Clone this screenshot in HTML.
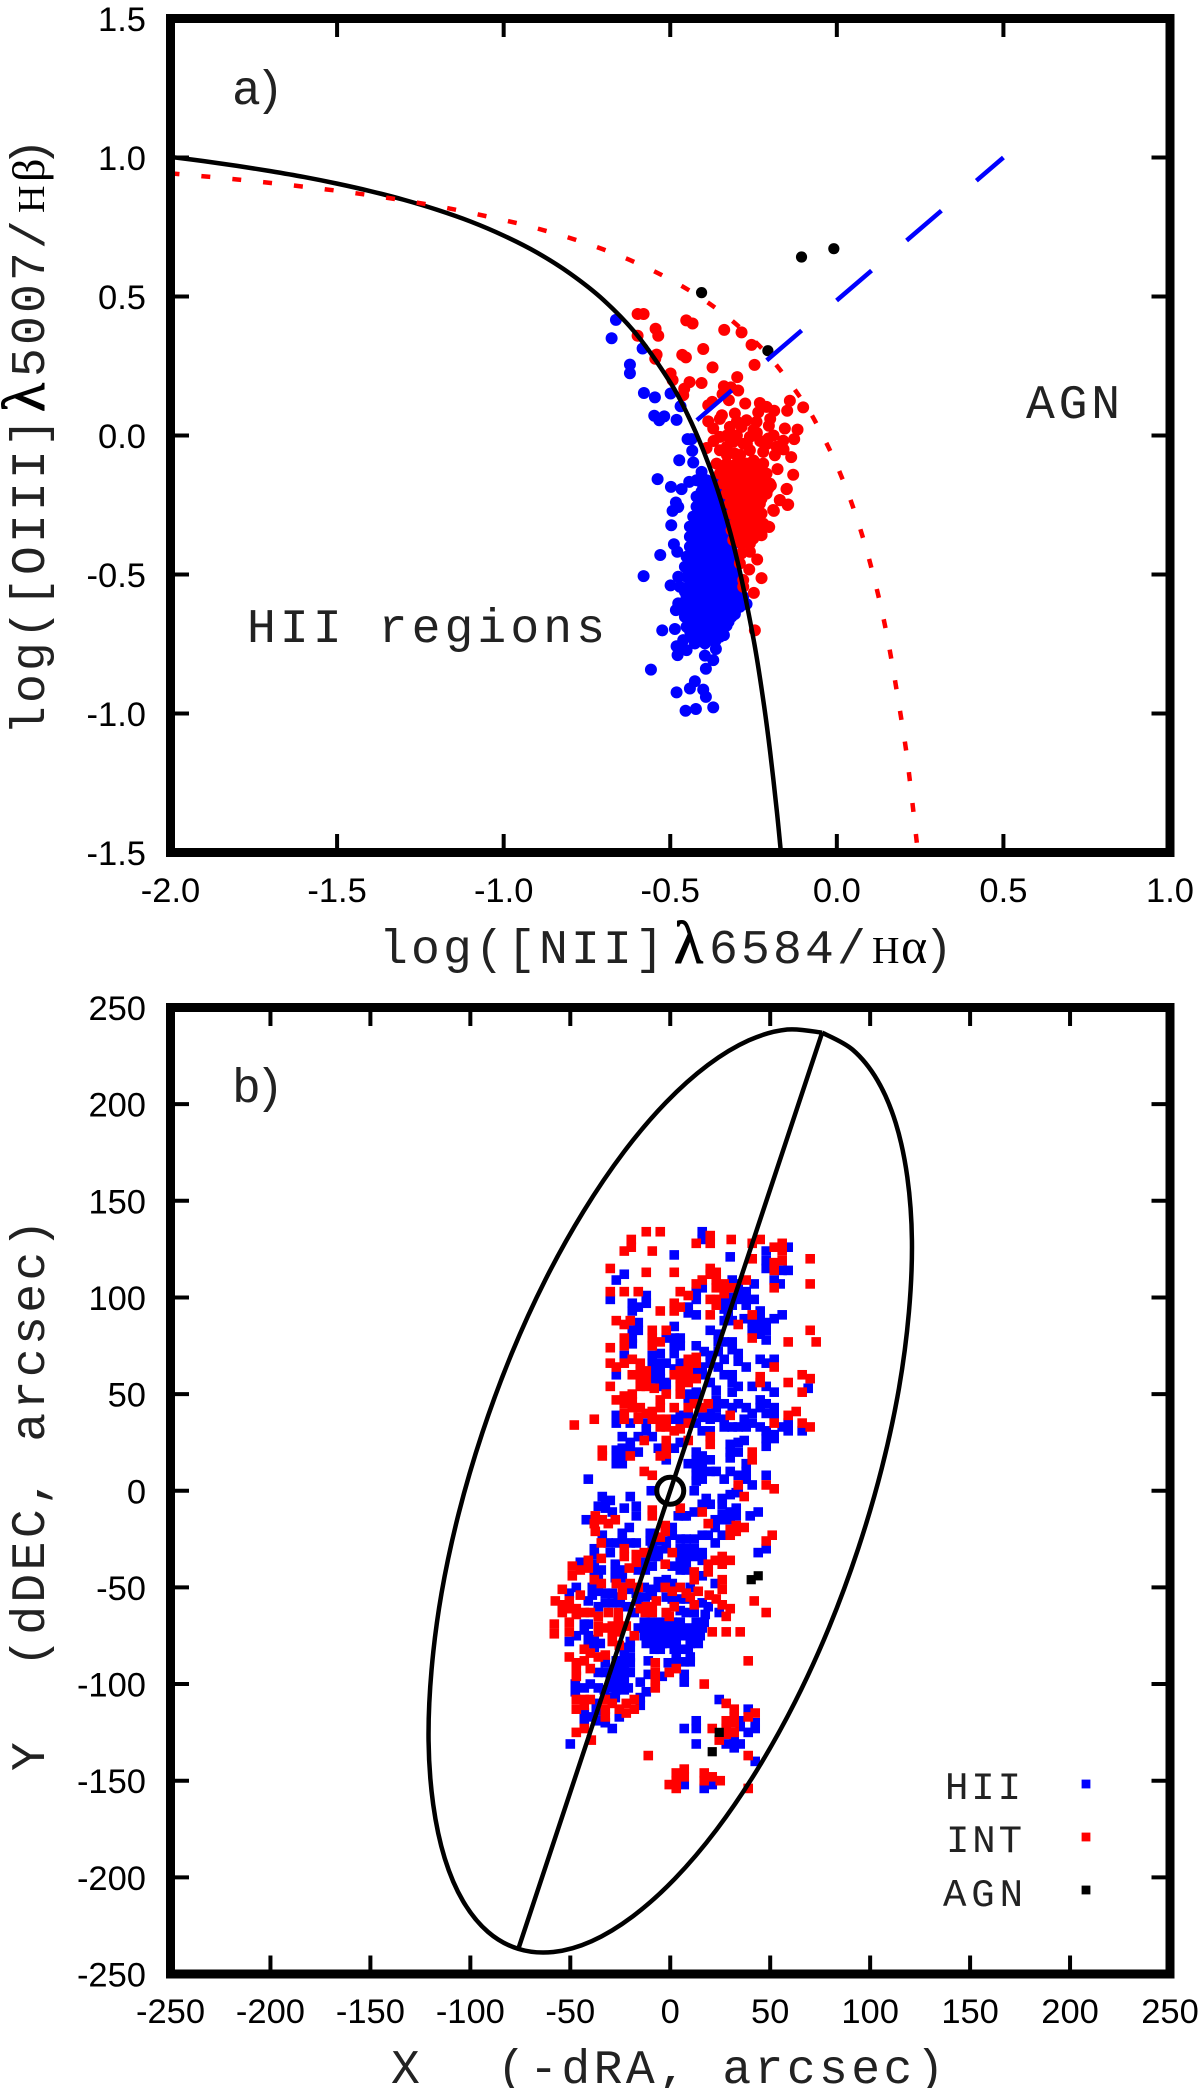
<!DOCTYPE html>
<html lang="en">
<head>
<meta charset="utf-8">
<title>BPT diagram and spatial distribution</title>
<style>
html,body{margin:0;padding:0;background:#fff;}
svg{display:block;}
.tick-label{font-family:"Liberation Sans",sans-serif;font-size:34.5px;fill:#000;}
.mono{font-family:"Liberation Mono",monospace;font-size:48px;fill:#222;}
.title{letter-spacing:3.2px;}
.legend{font-family:"Liberation Mono",monospace;font-size:39px;fill:#222;}
.greek{font-family:"Liberation Serif",serif;letter-spacing:0;fill:#000;}
.lambda{stroke:#000;stroke-width:1;}
</style>
</head>
<body>
<svg id="chart" xmlns="http://www.w3.org/2000/svg" width="1200" height="2088" viewBox="0 0 1200 2088">
  <rect x="0" y="0" width="1200" height="2088" fill="#fff"/>
  <g id="panelA"></g>
  <g id="panelB"></g>

  <text class="mono" x="232" y="104" textLength="52" lengthAdjust="spacing">a)</text>
  <text class="mono" x="1026" y="418" textLength="94" lengthAdjust="spacing">AGN</text>
  <text class="mono" x="247" y="642" textLength="358" lengthAdjust="spacing">HII regions</text>
  <text class="mono title" y="963"><tspan x="379">log([NII]</tspan><tspan x="674" class="greek lambda" font-size="60">λ</tspan><tspan x="709">6584/</tspan><tspan x="872" class="greek" font-size="38">H</tspan><tspan x="901" class="greek" font-size="50">α</tspan><tspan x="924">)</tspan></text>
  <text class="mono title" y="735" transform="rotate(-90 44 735)"><tspan x="44">log([OIII]</tspan><tspan x="367" class="greek lambda" font-size="60">λ</tspan><tspan x="402">5007/</tspan><tspan x="566" class="greek" font-size="38">H</tspan><tspan x="597" class="greek" font-size="46">β</tspan><tspan x="612">)</tspan></text>

  <text class="mono" x="232" y="1102" textLength="52" lengthAdjust="spacing">b)</text>
  <text class="mono" y="2083" style="letter-spacing:3.4px"><tspan x="391">X</tspan><tspan x="497">(-dRA, arcsec)</tspan></text>
  <text class="mono" y="1771" transform="rotate(-90 44 1771)" style="letter-spacing:3.4px"><tspan x="44">Y</tspan><tspan x="148">(dDEC, arcsec)</tspan></text>

  <g>
    <text class="legend" x="945" y="1799" textLength="76" lengthAdjust="spacing">HII</text>
    <rect x="1081.6" y="1779.6" width="8.8" height="8.8" fill="#0000ff"/>
    <text class="legend" x="946" y="1852" textLength="76" lengthAdjust="spacing">INT</text>
    <rect x="1081.6" y="1832.6" width="8.8" height="8.8" fill="#ff0000"/>
    <text class="legend" x="943" y="1906" textLength="80" lengthAdjust="spacing">AGN</text>
    <rect x="1081.6" y="1885.6" width="8.8" height="8.8" fill="#000"/>
  </g>
</svg>
<script>
// ---------- Panel a data: [log NII/Ha, log OIII/Hb] ----------
const bptXTicks = [-2.0,-1.5,-1.0,-0.5,0.0,0.5,1.0];
const bptYTicks = [-1.5,-1.0,-0.5,0.0,0.5,1.0,1.5];
const bptXLabels = ['-2.0','-1.5','-1.0','-0.5','0.0','0.5','1.0'];
const bptYLabels = ['-1.5','-1.0','-0.5','0.0','0.5','1.0','1.5'];

const bptHii = [
[-.663,.416],[-.676,.350],[-.583,.313],[-.621,.255],[-.621,.224],[-.579,.153],[-.546,.137],[-.499,.151],[-.469,.105],[-.548,.071],[-.518,.069],[-.533,.055],[-.481,.056],[-.448,-.013],[-.436,-.013],[-.434,-.055],[-.473,-.089],[-.431,-.097],[-.538,-.157],[-.498,-.185],[-.466,-.193],[-.443,-.167],[-.483,-.241],[-.476,-.257],[-.493,-.271],[-.497,-.323],[-.489,-.391],
[-.530,-.430],[-.479,-.418],[-.580,-.506],[-.476,-.508],[-.499,-.539],[-.476,-.604],[-.483,-.628],[-.524,-.701],[-.486,-.696],[-.481,-.758],[-.478,-.790],[-.558,-.842],[-.393,-.839],[-.371,-.808],[-.396,-.792],[-.363,-.768],[-.426,-.884],[-.441,-.910],[-.481,-.924],[-.401,-.914],[-.393,-.940],[-.371,-.978],[-.423,-.984],[-.454,-.990],[-.339,-.718],[-.331,-.684],[-.306,-.642],[-.271,-.606],[-.451,-.772],[-.461,-.736],[-.426,-.748],[-.396,-.748],
[-.406,-.131],[-.421,-.161],[-.391,-.161],[-.361,-.161],
[-.401,-.184],[-.371,-.184],[-.421,-.22],[-.391,-.22],[-.361,-.22],[-.35,-.2],[-.421,-.256],[-.391,-.256],[-.361,-.256],[-.34,-.256],
[-.431,-.292],[-.401,-.292],[-.371,-.292],[-.341,-.292],[-.441,-.328],[-.411,-.328],[-.381,-.328],[-.351,-.328],[-.326,-.328],
[-.441,-.364],[-.411,-.364],[-.381,-.364],[-.351,-.364],[-.321,-.364],[-.441,-.40],[-.411,-.40],[-.381,-.40],[-.351,-.40],[-.316,-.40],
[-.451,-.436],[-.421,-.436],[-.391,-.436],[-.361,-.436],[-.331,-.436],[-.306,-.436],[-.456,-.472],[-.426,-.472],[-.396,-.472],[-.366,-.472],[-.336,-.472],[-.306,-.472],
[-.451,-.508],[-.421,-.508],[-.391,-.508],[-.361,-.508],[-.331,-.508],[-.299,-.508],[-.471,-.544],[-.441,-.544],[-.411,-.544],[-.381,-.544],[-.351,-.544],[-.321,-.544],[-.291,-.544],
[-.451,-.58],[-.421,-.58],[-.391,-.58],[-.361,-.58],[-.331,-.58],[-.301,-.58],[-.281,-.58],[-.471,-.616],[-.441,-.616],[-.411,-.616],[-.381,-.616],[-.351,-.616],[-.321,-.616],[-.291,-.616],
[-.456,-.652],[-.426,-.652],[-.396,-.652],[-.366,-.652],[-.336,-.652],[-.316,-.652],[-.451,-.688],[-.421,-.688],[-.391,-.688],[-.361,-.688],[-.341,-.688],[-.436,-.724],[-.406,-.724],[-.376,-.724],[-.351,-.724],
[-.406,-.202],[-.376,-.202],[-.406,-.238],[-.376,-.238],[-.35,-.238],[-.406,-.274],[-.376,-.274],[-.35,-.274],
[-.416,-.31],[-.386,-.31],[-.356,-.31],[-.33,-.31],[-.426,-.346],[-.396,-.346],[-.366,-.346],[-.336,-.346],[-.426,-.382],[-.396,-.382],[-.366,-.382],[-.336,-.382],
[-.436,-.418],[-.406,-.418],[-.376,-.418],[-.346,-.418],[-.32,-.418],[-.44,-.454],[-.41,-.454],[-.38,-.454],[-.35,-.454],[-.32,-.454],[-.44,-.49],[-.41,-.49],[-.38,-.49],[-.35,-.49],[-.32,-.49],
[-.44,-.526],[-.41,-.526],[-.38,-.526],[-.35,-.526],[-.316,-.526],[-.456,-.562],[-.426,-.562],[-.396,-.562],[-.366,-.562],[-.336,-.562],[-.306,-.562],
[-.456,-.598],[-.426,-.598],[-.396,-.598],[-.366,-.598],[-.336,-.598],[-.306,-.598],[-.456,-.634],[-.426,-.634],[-.396,-.634],[-.366,-.634],[-.336,-.634],[-.306,-.634],
[-.44,-.67],[-.41,-.67],[-.38,-.67],[-.35,-.67],[-.325,-.67],[-.44,-.706],[-.41,-.706],[-.38,-.706],[-.355,-.706],[-.42,-.74],[-.39,-.74],[-.365,-.74]
];

const bptInt = [
[-.598,.437],[-.580,.437],[-.452,.414],[-.433,.403],[-.544,.384],[-.536,.359],[-.598,.359],[-.338,.380],[-.286,.371],[-.256,.326],[-.401,.311],[-.464,.290],[-.453,.281],[-.541,.291],[-.545,.276],[-.247,.254],[-.373,.245],[-.499,.223],[-.493,.199],[-.299,.210],[-.442,.192],[-.406,.189],[-.458,.168],[-.461,.145],[-.339,.177],[-.318,.173],[-.296,.162],[-.343,.149],[-.374,.121],[-.386,.109],[-.324,.127],[-.275,.115],[-.141,.125],[-.101,.101],[-.231,.117],[-.211,.103],[-.188,.089],[-.149,.089],[-.236,.083],[-.345,.073],[-.306,.079],[-.386,.051],[-.351,.060],[-.241,.049],[-.271,.055],[-.321,.031],[-.204,.035],[-.156,.025],[-.118,.021],[-.371,.025],[-.286,.031],[-.206,-.011],[-.161,-.019],[-.128,-.013],[-.351,-.005],[-.311,-.023],[-.261,-.005],[-.391,-.045],[-.181,-.041],[-.221,-.059],[-.186,-.071],[-.137,-.078],[-.351,-.053],[-.306,-.065],[-.261,-.053],[-.178,-.121],[-.131,-.141],[-.151,-.193],[-.171,-.233],[-.148,-.250],[-.189,-.271],[-.203,-.329],[-.226,-.359],
[-.33,-.07],[-.28,-.03],[-.23,-.02],[-.29,-.07],[-.25,-.09],[-.33,.0],[-.24,.01],[-.19,.0],[-.30,.05],[-.25,.02],[-.33,-.04],[-.27,-.03],[-.21,-.03],[-.16,-.05],[-.3,.0],[-.2,.06],[-.37,-.02],
[-.361,-.101],[-.331,-.101],[-.301,-.101],[-.271,-.101],[-.241,-.101],[-.221,-.101],[-.351,-.137],[-.321,-.137],[-.291,-.137],[-.261,-.137],[-.231,-.137],[-.211,-.137],
[-.341,-.173],[-.311,-.173],[-.281,-.173],[-.251,-.173],[-.221,-.173],[-.201,-.173],[-.331,-.209],[-.301,-.209],[-.271,-.209],[-.241,-.209],[-.211,-.209],
[-.321,-.245],[-.291,-.245],[-.261,-.245],[-.231,-.245],[-.316,-.281],[-.286,-.281],[-.256,-.281],[-.226,-.281],[-.306,-.317],[-.276,-.317],[-.246,-.317],[-.221,-.317],[-.296,-.353],[-.266,-.353],[-.241,-.353],[-.286,-.389],[-.261,-.389],
[-.346,-.119],[-.316,-.119],[-.286,-.119],[-.256,-.119],[-.226,-.119],[-.336,-.155],[-.306,-.155],[-.276,-.155],[-.246,-.155],[-.216,-.155],[-.326,-.191],[-.296,-.191],[-.266,-.191],[-.236,-.191],[-.206,-.191],
[-.316,-.227],[-.286,-.227],[-.256,-.227],[-.226,-.227],[-.306,-.263],[-.276,-.263],[-.246,-.263],[-.301,-.299],[-.271,-.299],[-.241,-.299],[-.291,-.335],[-.261,-.335],[-.231,-.335],[-.281,-.371],[-.251,-.371],
[-.198,-.180],[-.150,-.192],[-.171,-.232],[-.146,-.248],[-.191,-.268],[-.206,-.328],[-.226,-.358],[-.256,-.370],[-.261,-.418],[-.239,-.446],[-.263,-.482],[-.226,-.513],[-.249,-.566],[-.281,-.520],[-.281,-.544],[-.246,-.701],[-.291,-.460],[-.286,-.424],[-.311,-.376],[-.281,-.376],[-.316,-.340]
];

const bptAgn = [[-.106,.642],[-.009,.672],[-.406,.514],[-.207,.305]];

const kauffmannX = [-2,-1.9,-1.8,-1.7,-1.6,-1.5,-1.4,-1.3,-1.2,-1.1,-1,-.9,-.8,-.7,-.6,-.5,-.45,-.4,-.35,-.3,-.25,-.22,-.2,-.18,-.168];
const kauffmannY = [1.002,.987,.970,.951,.930,.906,.879,.848,.812,.770,.719,.658,.582,.487,.362,.191,.08,-.056,-.225,-.443,-.733,-.959,-1.14,-1.352,-1.498];
const kewleyX = [-2,-1.8,-1.6,-1.4,-1.2,-1,-.9,-.8,-.7,-.6,-.5,-.4,-.3,-.2,-.1,-.05,0,.05,.1,.15,.2,.22,.243];
const kewleyY = [.943,.921,.895,.864,.825,.775,.745,.710,.669,.620,.561,.489,.398,.280,.120,.017,-.108,-.262,-.459,-.716,-1.069,-1.25,-1.497];
const agnDividerX = [-.42,.5];
const agnDividerY = [.055,1.0];

// ---------- Panel b data: [X, Y] arcsec ----------
const mapTicks = [-250,-200,-150,-100,-50,0,50,100,150,200,250];
const mapTickLabels = ['-250','-200','-150','-100','-50','0','50','100','150','200','250'];

const mapHii = [
[16,134],[16,130],[2,122],[30,121],[48,124],[48,119],[48,115],[59,126],[56,114],[59,114],[-23,112],[-27,109],[31,109],[34,107],[42,107],[52,109],[55,107],[16,105],[13,103],[13,99],[-12,101],[-12,97],[-16,95],[-19,97],[-19,93],[-30,99],[31,100],[34,103],[34,99],[38,103],[38,99],[42,99],[38,96],[27,98],[27,94],[9,95],[9,92],[13,91],[31,96],[29,91],[27,88],[31,88],[45,93],[45,89],[56,91],[52,89],[48,87],[37,89],[41,87],[45,85],[41,83],[45,81],[48,83],[48,78],[-16,87],[-16,83],[-19,83],[-19,79],[-19,76],[2,85],[2,79],[5,79],[-2,79],[5,75],[2,75],[2,71],[20,83],[24,81],[27,77],[31,77],[24,77],[31,73],[34,71],[34,67],[38,64],[45,68],[48,66],[52,68],[13,75],[17,72],[20,70],[24,72],[27,68],[20,66],[16,64],[24,64],[27,60],[31,60],[31,56],[34,54],[31,51],[41,54],[48,54],[52,51],[23,52],[20,56],[-5,71],[-9,70],[-9,66],[-5,66],[-2,66],[-9,62],[-5,62],[-9,58],[-5,58],[-2,56],[-2,52],[-5,54],[-23,70],[-27,60],[5,66],[69,53],[2,63],[13,62],[16,60],[13,51],[9,50],[9,47],[13,47],[23,47],[27,45],[31,43],[34,45],[38,43],[41,40],[45,47],[48,45],[52,43],[45,43],[48,40],[52,39],[23,43],[20,40],[16,38],[20,37],[23,38],[27,37],[27,33],[31,33],[34,33],[38,33],[41,35],[45,33],[48,31],[52,29],[56,33],[59,31],[59,35],[66,31],[37,37],[13,35],[16,31],[20,31],[5,39],[9,39],[2,37],[5,35],[-27,39],[-27,35],[-20,35],[-12,35],[-12,31],[-9,28],[-24,28],[-20,25],[-16,28],[-20,22],[-24,22],[-27,21],[-27,18],[-27,14],[-24,18],[-16,20],[-24,14],[2,22],[5,25],[-6,22],[-2,16],[13,20],[16,18],[20,16],[13,16],[16,14],[13,12],[9,14],[13,8],[16,10],[20,10],[13,5],[16,6],[12,0],[23,10],[27,6],[30,10],[34,8],[38,10],[38,6],[34,1],[41,3],[30,24],[34,25],[37,26],[30,20],[34,20],[30,17],[38,14],[48,8],[48,27],[48,23],[52,27],[-41,6],[-34,-3],[-30,-5],[-20,-3],[-9.5,0],[30,-2],[26,-4],[33,-1],[18,-4],
[-32.5,-6],[-36,-8],[-32.5,-9],[-29,-11],[-23,-9],[-17,-8],[-17,-13],[-42,-15],[8,-13],[7,-13],[12,-11],[4,-13],[16,-7],[20,-7],[26,-7],[33,-9],[33,-13],[30,-11],[26,-12],[22.5,-15],[26,-15],[30,-15],[40,-13],[44,-11],[22.5,-19],[26,-23],[22.5,-27],[19,-23],[16,-23],[12,-25],[8,-25],[5,-25],[1,-19],[1,-23],[-2,-26],[-6,-26],[-10,-22],[-10,-26],[-20.5,-19],[-24,-22],[-24,-26],[-34,-23],[-38,-30],[-38,-33],[-31,-27],[-27,-27],[-20,-27],[-17,-27],[-30,-32],[-9,-30],[-6,-31],[-2,-30],[5,-30],[8,-30],[12,-30],[16,-32],[5,-34],[8,-34],[12,-34],[16,-36],[5,-37],[8,-38],[44,-32],[48,-30],[-6,-34],[-9,-34],[-12.5,-37],[-9,-39],[-12.5,-41],[-16,-41],[1,-39],[5,-41],[8,-41],[16,-44],[22.5,-48],[-45,-37],[-38,-38],[-34.5,-41],[-38,-42],[-27.5,-38],[-24,-41],[-27.5,-42],[-27.5,-45],[-24,-45],[-36,-44],[-47,-50],[-50.5,-53],[-39,-50],[-36,-52],[-39,-54],[-32.5,-53],[-29,-53],[-26,-55],[-20,-51],[-17,-53],[-13,-50],[-10,-51],[-6,-47],[-2,-46],[1,-48],[-9,-54],[-6,-50],[10,-50],
[-41,-57],[-36,-60],[-32.5,-58],[-29,-58],[-25,-58],[-22,-60],[-18,-63],[-16,-57],[-12.5,-55],[-2,-55],[1,-56],[5,-56],[8,-56],[12,-63],[16,-58],[19,-60],[17.5,-64],[24.5,-63],[5,-62],[8,-63],
[-13,-68],[-10,-68],[-6,-68],[-2,-68],[1,-68],[5,-68],[13,-68],[17,-68],[-16,-71],[-12.5,-71],[-9,-71],[-5,-71],[-2,-71],[2,-71],[5,-71],[9,-71],[13,-71],[16,-71],[-13,-75],[-10,-75],[-6,-75],[-2,-75],[1,-75],[5,-75],[9,-75],[12.5,-75],[15,-75],[-12,-79],[-8,-79],[-4,-79],[-1,-79],[3,-79],[10,-79],[14,-79],[-8,-82],[-5,-82],[2,-82],[5,-82],[9,-82],[3,-86],[10,-86],[3,-88.5],[7,-88.5],[10,-88.5],
[-43,-69],[-43,-72],[-41,-69],[-47,-75],[-50.5,-78],[-41,-75],[-38,-77],[-35,-79],[-41,-79],[-38,-81],[-20,-78],[-23,-81],[-20,-81],[-20,-86],[-23,-85],[-27,-88],[-23,-89],[-20,-89],[-32.5,-89],[-36,-94],[-32.5,-94],[-27,-92],[-23,-93],[-20,-94],[-27,-96],[-23,-96],[-30,-98],[-27,-100],[-23,-100],[-21,-102],[-27,-103],[-30,-102],[-23,-103],[-47.5,-100],[-47.5,-104],[-43,-102],[-40,-100],[-36,-102],[-27.5,-107],[-30,-107],[-33,-103],[-11,-88],[-11,-95],[-15,-99],[-4,-96],[-1,-89],[7,-95],[7,-99],[-12,-104],[-15,-107],[-15,-111],[-43,-115],[-43,-119],[-40,-117],[-37,-110],[-37,-114],[-37,-119],[-32.5,-120],[-29,-123],[-25.5,-117],[-50,-131],
[24.5,-108],[39,-113],[35,-119],[35,-122],[39,-125],[42.5,-120],[42.5,-123],[7,-123],[13,-119],[13,-123],[13,-131],[28,-131],[32,-133],[35,-131],[32,-129],[42.5,-140],[7,-152],[17,-154],[21,-152]
];

const mapInt = [
[-12,134],[-5,134],[20,132],[20,128],[-19.5,130],[-19.5,126],[-23,124],[-9,124],[13,128],[30.5,130],[41,128],[45,130],[52,126],[56,128],[56,124],[56,119],[52,118],[52,114],[41,120],[70,120],[-30,115],[-12,113],[2,113],[20,115],[23,113],[20,112],[16,109],[13,107],[23,109],[27,107],[23,105],[31,105],[27,103],[38,109],[52,105],[70,107],[-30,103],[-23,103],[-16,103],[5,103],[9,101],[20,99],[23,99],[23,96],[27,102],[2,97],[2,93],[5,95],[-5,93],[20,91],[41,91],[-27,88],[-23,86],[-20,88],[34,86],[70,83],[-9,83],[-2,83],[-9,79],[-23,79],[-23,75],[-9,75],[-5,77],[-30,74],[59,77],[73,77],[41,79],[-19,68],[-15,66],[-30,66],[-27,64],[-23,66],[13,69],[9,68],[13,66],[9,64],[5,62],[2,60],[-15,62],[-12,62],[-19,60],[-15,58],[-12,58],[9,60],[5,58],[13,58],[9,56],[5,54],[-15,54],[-12,54],[-8,53],[-30,54],[45,59],[45,56],[52,64],[66,60],[70,58],[59,56],[66,51],[5,50],[-2,50],[-19,50],[-23,49],[-19,46],[-27,47],[-23,45],[-19,43],[-15,43],[-5,47],[-5,43],[-9,41],[-12,40],[-16,38],[-23,40],[-23,37],[-16,37],[-9,37],[-5,37],[-2,37],[-5,33],[-2,33],[2,31],[5,32],[9,35],[12,45],[16,43],[19,45],[9,43],[2,43],[30,39],[52,35],[59,39],[63,41],[66,35],[70,33],[-48,34],[-38,37],[-13,26],[-2,26],[-2,22],[-5,18],[-2,19],[9,26],[20,28],[20,24],[-34,21],[-34,18],[-20,18],[41,20],[41,16],[-13,10],[-9,8],[34,3],[48,3],[52,1],[37,-3],
[-9,-10],[-9,-13],[-37.5,-13],[-38,-17],[-37.5,-21],[-34,-15],[-31,-17],[-27.5,-15],[16,-11],[5,-9],[-2.5,-18],[-2.5,-21],[-5,-24],[19,-17],[30,-20],[30,-23],[33,-18],[33,-21],[37,-19],[51,-23],[48,-26],[-34.5,-27],[-23,-30],[-23,-34],[-13,-32],[-17,-33],[-17,-37],[1,-32],[-34.5,-35],[-41,-36],[-41,-40],[-45,-41],[-49,-39],[-49,-44],[-20.5,-40],[-2.5,-38],[12,-42],[12,-46],[19,-38],[19,-42],[22.5,-36],[26,-34],[26,-38],[30,-36],[26,-46],[26,-51],[-38,-46],[-34.5,-48],[-27,-48],[-24,-50],[-20,-48],[-16,-50],[-24,-54],[-54,-51],[-45,-54],[-57.5,-57],[-50.5,-57],[-54,-59],[-54,-63],[-50.5,-61],[-47,-61],[-47,-64],[-43,-63],[-40,-63],[-36,-65],[-31,-63],[-26,-63],[-26,-66],[-58,-69],[-58,-74],[-50.5,-68],[-50.5,-73],[-36,-70],[-36,-73],[-32.5,-71],[-29,-70],[-26,-70],[-29,-74],[-26,-73],[-22,-70],[-29,-78],[-25.5,-80],[-18,-75],
[-2.5,-50],[1,-52],[5,-50],[8,-53],[10,-55],[14,-52],[12,-59],[19.5,-54],[23,-56],[26,-59],[30,-61],[28,-65],[2,-60],[-2,-63],[-0.5,-65],[-7,-57],[-9,-60],[-12,-60],[-15,-61],[-9,-63],[-12.5,-63],[21,-73],[28,-73],[35,-73],[42,-57],[48,-63],[39,-88],[17,-100],
[-50.5,-86],[-43,-82],[-40,-84],[-36,-86],[-32.5,-85],[-47,-89],[-43,-88],[-47,-93],[-47,-96],[-40,-92],[-7.5,-89],[-7.5,-94],[-7.5,-98],[-7.5,-102],[3,-92],[-0.5,-94],[-47,-108],[-47,-113],[-43,-108],[-40,-108],[-43,-111],[-32.5,-108],[-29,-110],[-32.5,-113],[-32.5,-117],[-22,-110],[-18,-108],[-18,-113],[-25.5,-113],[-22,-115],[-43,-123],[-47,-125],[-39.5,-129],
[28,-110],[32,-113],[32,-117],[28,-119],[32,-120],[28,-123],[32,-125],[28,-126],[24.5,-129],[21,-123],[39,-117],[42.5,-115],[39,-137],[-11,-137],[7,-144],[3,-146],[7,-148],[3,-150],[-0.5,-152],[3,-154],[17,-146],[17,-150],[21,-148],[25,-150],[39,-154]
];

const mapAgn = [[44,-44],[40.5,-46],[24.5,-125],[21,-135]];

const galaxyOutlineX = [76,91.2,103.6,112.8,118.6,120.9,119.4,114.4,105.8,94,79.4,62.4,43.4,23.1,2.2,-18.8,-39.3,-58.5,-76,-91.2,-103.6,-112.8,-118.6,-120.9,-119.4,-114.4,-105.8,-94,-79.4,-62.4,-43.4,-23.1,-2.2,18.8,39.3,58.5,76];
const galaxyOutlineY = [237,228.2,212.4,190.2,162.2,129.4,92.5,52.9,11.6,-30,-70.8,-109.3,-144.5,-175.4,-200.8,-220.2,-233,-238.6,-237,-228.2,-212.4,-190.2,-162.2,-129.4,-92.5,-52.9,-11.6,30,70.8,109.3,144.5,175.4,200.8,220.2,233,238.6,237];
const majorAxisX = [-76,76];
const majorAxisY = [-237,237];
const galaxyCentre = [0,0];

// ---------- Axis functions ----------
const SVGNS = 'http://www.w3.org/2000/svg';
const frameLeft = 170.5, frameRight = 1170;
const aTop = 18.5, aBottom = 852.5, bTop = 1007.5, bBottom = 1974;
const ax = v => frameLeft + (v + 2) / 3 * (frameRight - frameLeft);
const ay = v => aBottom - (v + 1.5) / 3 * (aBottom - aTop);
const bx = v => frameLeft + (v + 250) / 500 * (frameRight - frameLeft);
const by = v => bBottom - (v + 250) / 500 * (bBottom - bTop);

function make(parent, tag, attrs) {
  const el = document.createElementNS(SVGNS, tag);
  for (const k in attrs) el.setAttribute(k, attrs[k]);
  parent.appendChild(el);
  return el;
}

function line(parent, name, x1, y1, x2, y2, w) {
  const el = make(parent, 'line', {x1, y1, x2, y2, stroke: '#000', 'stroke-width': w});
  
  
  return el;
}

function axes(parent, prefix, xf, yf, top, bottom, xTicks, xLabels, yTicks, yLabels, xBase) {
  const tickLen = 18.5;
  xTicks.forEach((t, i) => {
    const px = xf(t);
    if (i > 0 && i < xTicks.length - 1) {
      line(parent, prefix + '-x-tick-bottom', px, bottom, px, bottom - tickLen, 4);
      line(parent, prefix + '-x-tick-top', px, top, px, top + tickLen, 4);
    }
    const label = make(parent, 'text', {x: px, y: xBase, 'text-anchor': 'middle', class: 'tick-label'});
    
    
    label.textContent = xLabels[i];
  });
  yTicks.forEach((t, i) => {
    const py = yf(t);
    if (i > 0 && i < yTicks.length - 1) {
      line(parent, prefix + '-y-tick-left', frameLeft, py, frameLeft + tickLen, py, 4);
      line(parent, prefix + '-y-tick-right', frameRight, py, frameRight - tickLen, py, 4);
    }
    const label = make(parent, 'text', {x: 146, y: py + 12.5, 'text-anchor': 'end', class: 'tick-label'});
    
    
    label.textContent = yLabels[i];
  });
  const frame = make(parent, 'rect', {x: frameLeft, y: top, width: frameRight - frameLeft, height: bottom - top, fill: 'none', stroke: '#000', 'stroke-width': 9});
  
  
}

// Smooth path through the sampled values (Catmull-Rom to cubic Bezier)
function smoothPath(px, py) {
  let d = 'M' + px[0].toFixed(2) + ' ' + py[0].toFixed(2);
  const n = px.length;
  for (let i = 0; i < n - 1; i++) {
    const i0 = Math.max(i - 1, 0), i3 = Math.min(i + 2, n - 1);
    const c1x = px[i] + (px[i + 1] - px[i0]) / 6, c1y = py[i] + (py[i + 1] - py[i0]) / 6;
    const c2x = px[i + 1] - (px[i3] - px[i]) / 6, c2y = py[i + 1] - (py[i3] - py[i]) / 6;
    d += 'C' + c1x.toFixed(2) + ' ' + c1y.toFixed(2) + ' ' + c2x.toFixed(2) + ' ' + c2y.toFixed(2) + ' ' + px[i + 1].toFixed(2) + ' ' + py[i + 1].toFixed(2);
  }
  return d;
}

function curve(parent, name, xs, ys, xf, yf, color, width, dash) {
  const attrs = {d: smoothPath(xs.map(xf), ys.map(yf)), fill: 'none', stroke: color, 'stroke-width': width, 'stroke-linejoin': 'round'};
  if (dash) attrs['stroke-dasharray'] = dash;
  const el = make(parent, 'path', attrs);
  
  
  return el;
}

function dots(parent, name, data, color, r) {
  const g = make(parent, 'g', {fill: color});
  
  
  data.forEach(d => {
    const c = make(g, 'circle', {cx: ax(d[0]).toFixed(2), cy: ay(d[1]).toFixed(2), r});
    
    
  });
}

function squares(parent, name, data, color, size) {
  const g = make(parent, 'g', {fill: color});
  
  
  data.forEach(d => {
    const s = make(g, 'rect', {x: (bx(d[0]) - size / 2).toFixed(2), y: (by(d[1]) - size / 2).toFixed(2), width: size, height: size});
    
    
  });
}

// ---------- Panel a ----------
const panelA = document.getElementById('panelA');
dots(panelA, 'bpt-hii', bptHii, '#0000ff', 6);
dots(panelA, 'bpt-int', bptInt, '#ff0000', 6);
dots(panelA, 'bpt-agn', bptAgn, '#000', 5.6);
curve(panelA, 'kauffmann-curve', kauffmannX, kauffmannY, ax, ay, '#000', 4.5);
curve(panelA, 'kewley-curve', kewleyX, kewleyY, ax, ay, '#ff0000', 4.5, '9 22');
curve(panelA, 'agn-divider-line', agnDividerX, agnDividerY, ax, ay, '#0000ff', 4.5, '46 46');
axes(panelA, 'panel-a', ax, ay, aTop, aBottom, bptXTicks, bptXLabels, bptYTicks, bptYLabels, 902);

// ---------- Panel b ----------
const panelB = document.getElementById('panelB');
squares(panelB, 'map-hii', mapHii, '#0000ff', 9.6);
squares(panelB, 'map-int', mapInt, '#ff0000', 9.6);
squares(panelB, 'map-agn', mapAgn, '#000', 9.2);
curve(panelB, 'galaxy-outline', galaxyOutlineX, galaxyOutlineY, bx, by, '#000', 4.5);
curve(panelB, 'major-axis', majorAxisX, majorAxisY, bx, by, '#000', 4.5);
const centre = make(panelB, 'circle', {cx: bx(galaxyCentre[0]), cy: by(galaxyCentre[1]), r: 13.5, fill: 'none', stroke: '#000', 'stroke-width': 5});


axes(panelB, 'panel-b', bx, by, bTop, bBottom, mapTicks, mapTickLabels, mapTicks, mapTickLabels, 2023);
</script>
</body>
</html>
